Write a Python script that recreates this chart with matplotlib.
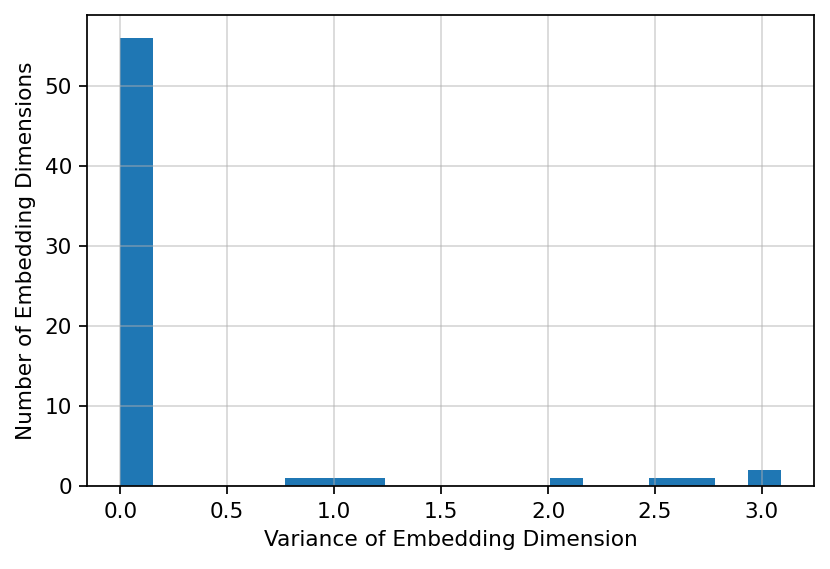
import numpy as np
import matplotlib
matplotlib.use('Agg')
import matplotlib.pyplot as plt

# Histogram: 20 bins between min and max variance
var_min = 0.0
var_max = 3.09
n_bins = 20
counts = [56, 0, 0, 0, 0, 1, 1, 1, 0, 0, 0, 0, 0, 1, 0, 0, 1, 1, 0, 2]

edges = np.linspace(var_min, var_max, n_bins + 1)

dpi = 156
fig, ax = plt.subplots(figsize=(830 / dpi, 569 / dpi), dpi=dpi)
ax.hist(edges[:-1], bins=edges, weights=counts, color='#1f77b4')
ax.grid(True, alpha=0.5)
ax.set_xlabel('Variance of Embedding Dimension')
ax.set_ylabel('Number of Embedding Dimensions')

fig.subplots_adjust(left=0.105, right=0.981, top=0.973, bottom=0.145)
fig.savefig('out.png', dpi=dpi)
